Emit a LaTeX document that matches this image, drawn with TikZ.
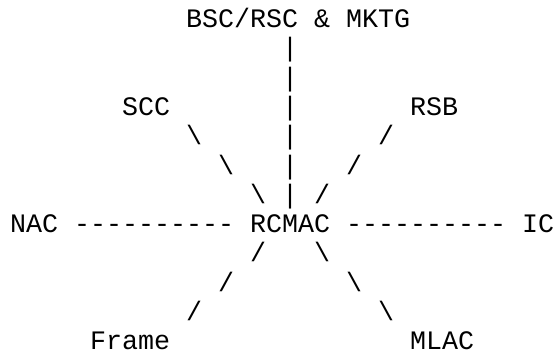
\documentclass[tikz,border=0pt]{standalone}
\usepackage{fontspec}
\setmonofont{Liberation Mono}
\usepackage{tikz}
\usetikzlibrary{positioning}

\begin{document}
\begin{tikzpicture}[x=16pt, y=-29.3pt]
   \useasboundingbox (-10pt,27.5pt) rectangle (545pt,-323.5pt);
   \begin{scope}[every node/.style={anchor=base west,inner sep=0pt,outer sep=0pt,
       text depth=0pt,font=\ttfamily\fontsize{26.67}{29.3}\selectfont}]
    \node (bsc) at (11,0) {BSC/RSC \& MKTG};
    \node (scc) at (7,3) {SCC};
    \node (rsb) at (25,3) {RSB};
    \node (nac) at (0,7) {NAC};
    \node (rcmac) at (15,7) {RCMAC};
    \node (ic) at (32,7) {IC};
    \node (frame) at (5,11) {Frame};
    \node (mlac) at (25,11) {MLAC};
    \node (dl) at (4,7) {----------};
    \node (dr) at (21,7) {----------};
    \foreach \r in {1,...,6}
     \node (bar\r) at (17,\r) {|};
    \foreach \r/\a/\b in {4/11/23, 5/13/21, 6/15/19}{
     \node (nw\r) at (\a,\r) {\textbackslash};
     \node (ne\r) at (\b,\r) {/};
    }
    \foreach \r/\a/\b in {8/15/19, 9/13/21, 10/11/23}{
     \node (sw\r) at (\a,\r) {/};
     \node (se\r) at (\b,\r) {\textbackslash};
    }
   \end{scope}
\end{tikzpicture}
\end{document}
